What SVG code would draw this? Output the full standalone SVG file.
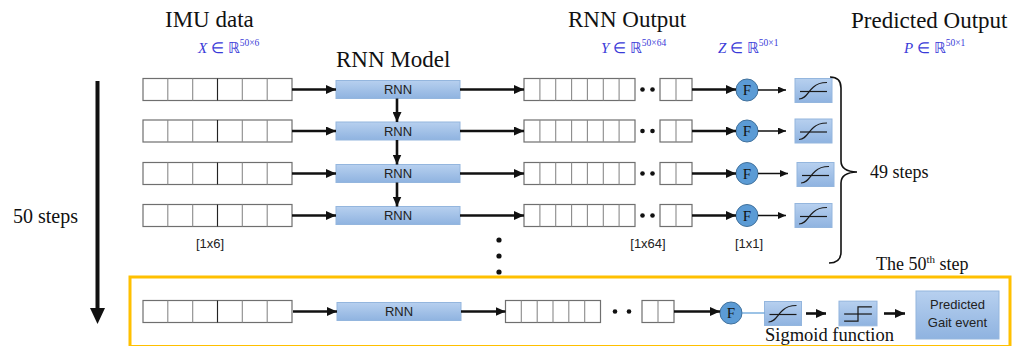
<svg xmlns="http://www.w3.org/2000/svg" xmlns:xlink="http://www.w3.org/1999/xlink" width="1019" height="346" viewBox="0 0 1019 346">
  <style>
    .title { font-family: "Liberation Serif", "Times New Roman", serif; font-size: 23px; fill: #111; }
    .serif { font-family: "Liberation Serif", "Times New Roman", serif; fill: #111; }
    .math { font-family: "Liberation Serif", "Times New Roman", serif; font-size: 15px; fill: #3a3ad8; }
    .mathsup { font-size: 9.5px; }
    .sans { font-family: "Liberation Sans", Arial, sans-serif; font-size: 13px; fill: #222; }
    .cells { fill: #fff; stroke: #6f6f6f; stroke-width: 1.2; }
    .div { stroke: #8a8a8a; stroke-width: 1.1; }
    .box { fill: url(#blueGrad); stroke: #94b6de; stroke-width: 1; }
    .fnode { fill: #5b9bd5; stroke: #41719c; stroke-width: 1; }
    .ftext { font-family: "Liberation Serif", "Times New Roman", serif; font-size: 15px; fill: #111; text-anchor: middle; }
    .thick { stroke: #111; stroke-width: 2.6; fill: none; }
    .thin { stroke: #111; stroke-width: 1.5; fill: none; }
    .dot { fill: #111; }
    .curve { stroke: #1a1a1a; stroke-width: 1.2; fill: none; }
  </style>
  <defs>
    <linearGradient id="blueGrad" x1="0" y1="0" x2="0" y2="1">
      <stop offset="0" stop-color="#b7d0ef"/>
      <stop offset="1" stop-color="#8fb3e0"/>
    </linearGradient>
    <marker id="headBig" markerUnits="userSpaceOnUse" markerWidth="10" markerHeight="9" refX="10" refY="4.5" orient="auto">
      <path d="M0,0 L10,4.5 L0,9 z" fill="#111"/>
    </marker>
    <marker id="headSmall" markerUnits="userSpaceOnUse" markerWidth="8" markerHeight="7" refX="8" refY="3.5" orient="auto">
      <path d="M0,0 L8,3.5 L0,7 z" fill="#111"/>
    </marker>
    <!-- sigmoid activation block -->
    <symbol id="sigmoid" viewBox="0 0 37 24" overflow="visible">
      <rect class="box" x="0" y="0" width="37" height="24"/>
      <line class="curve" x1="5" y1="13" x2="32" y2="13"/>
      <path class="curve" d="M4,20.5 C11,20.5 13,13 18.5,8.5 C22,5 25,4 32,4"/>
    </symbol>
    <!-- step (threshold) block -->
    <symbol id="step" viewBox="0 0 37 24" overflow="visible">
      <rect class="box" x="0" y="0" width="37" height="24"/>
      <line class="curve" x1="5" y1="12.5" x2="32" y2="12.5"/>
      <path class="curve" d="M5,19.5 H18.5 V5.5 H32"/>
    </symbol>
    <!-- 6-cell input vector -->
    <g id="inVec">
      <rect class="cells" x="0" y="0" width="149" height="22"/>
      <path class="div" d="M24.8,0 V22 M49.7,0 V22 M74.5,0 V22 M99.3,0 V22 M124.2,0 V22"/>
      <line x1="74.5" y1="0" x2="74.5" y2="22" stroke="#222" stroke-width="1.1"/>
    </g>
    <!-- 64-wide output vector (truncated) -->
    <g id="outVec">
      <rect class="cells" x="0" y="0" width="111" height="22"/>
      <path class="div" d="M15.9,0 V22 M31.7,0 V22 M47.6,0 V22 M63.4,0 V22 M79.3,0 V22 M95.1,0 V22"/>
      <circle class="dot" cx="118.5" cy="11" r="2.3"/>
      <circle class="dot" cx="128.5" cy="11" r="2.3"/>
      <rect class="cells" x="136" y="0" width="32" height="22"/>
      <line class="div" x1="152" y1="0" x2="152" y2="22"/>
    </g>
    <!-- RNN cell -->
    <g id="rnnCell">
      <rect class="box" x="0" y="0" width="124" height="18"/>
      <text class="sans" x="62" y="13.5" text-anchor="middle">RNN</text>
    </g>
    <!-- fully connected node -->
    <g id="fNode">
      <circle class="fnode" cx="0" cy="0" r="11"/>
      <text class="ftext" x="0" y="5">F</text>
    </g>
  </defs>

  <rect width="1019" height="346" fill="#fff"/>

  <!-- column headings -->
  <g id="headings">
    <text class="title" x="165" y="27">IMU data</text>
    <text class="title" x="336" y="67">RNN Model</text>
    <text class="title" x="568" y="27">RNN Output</text>
    <text class="title" x="851" y="28">Predicted Output</text>
    <text class="math" x="198" y="53"><tspan font-style="italic">X</tspan> ∈ ℝ<tspan class="mathsup" dy="-7">50×6</tspan></text>
    <text class="math" x="601" y="53"><tspan font-style="italic">Y</tspan> ∈ ℝ<tspan class="mathsup" dy="-7">50×64</tspan></text>
    <text class="math" x="718" y="53"><tspan font-style="italic">Z</tspan> ∈ ℝ<tspan class="mathsup" dy="-7">50×1</tspan></text>
    <text class="math" x="904" y="53"><tspan font-style="italic">P</tspan> ∈ ℝ<tspan class="mathsup" dy="-7">50×1</tspan></text>
  </g>

  <!-- time axis -->
  <g id="time-axis">
    <line x1="97.5" y1="81" x2="97.5" y2="310" stroke="#111" stroke-width="4"/>
    <path d="M90,308 L105,308 L97.5,324 z" fill="#111"/>
    <text class="serif" x="13" y="223" font-size="20">50 steps</text>
  </g>

  <!-- step rows 1..4 -->
  <g id="row1-input"><use xlink:href="#inVec" x="143" y="78.5"/></g>
  <g id="row2-input"><use xlink:href="#inVec" x="143" y="120"/></g>
  <g id="row3-input"><use xlink:href="#inVec" x="143" y="162.5"/></g>
  <g id="row4-input"><use xlink:href="#inVec" x="143" y="204.5"/></g>

  <g id="row1-rnn"><use xlink:href="#rnnCell" x="336" y="80.5"/></g>
  <g id="row2-rnn"><use xlink:href="#rnnCell" x="336" y="122"/></g>
  <g id="row3-rnn"><use xlink:href="#rnnCell" x="336" y="164.5"/></g>
  <g id="row4-rnn"><use xlink:href="#rnnCell" x="336" y="206.5"/></g>

  <g id="row1-output"><use xlink:href="#outVec" x="524" y="78.5"/></g>
  <g id="row2-output"><use xlink:href="#outVec" x="524" y="120"/></g>
  <g id="row3-output"><use xlink:href="#outVec" x="524" y="162.5"/></g>
  <g id="row4-output"><use xlink:href="#outVec" x="524" y="204.5"/></g>

  <g id="row1-f"><use xlink:href="#fNode" x="747" y="90"/></g>
  <g id="row2-f"><use xlink:href="#fNode" x="747" y="131"/></g>
  <g id="row3-f"><use xlink:href="#fNode" x="747" y="173.5"/></g>
  <g id="row4-f"><use xlink:href="#fNode" x="747" y="215.5"/></g>

  <g id="row1-sigmoid"><use xlink:href="#sigmoid" x="795" y="78.5" width="37" height="24"/></g>
  <g id="row2-sigmoid"><use xlink:href="#sigmoid" x="795" y="119" width="37" height="24"/></g>
  <g id="row3-sigmoid"><use xlink:href="#sigmoid" x="797" y="162.5" width="37" height="24"/></g>
  <g id="row4-sigmoid"><use xlink:href="#sigmoid" x="795" y="203.5" width="37" height="24"/></g>

  <!-- size annotations -->
  <g id="sizes">
    <text class="sans" x="210" y="248" text-anchor="middle">[1x6]</text>
    <text class="sans" x="648" y="248" text-anchor="middle">[1x64]</text>
    <text class="sans" x="749" y="248" text-anchor="middle">[1x1]</text>
  </g>

  <!-- continuation dots -->
  <g id="ellipsis">
    <circle class="dot" cx="499" cy="240" r="2.6"/>
    <circle class="dot" cx="499" cy="256" r="2.6"/>
    <circle class="dot" cx="499" cy="272" r="2.6"/>
  </g>

  <!-- brace grouping the first 49 steps -->
  <g id="brace49">
    <path d="M830,77 Q841,77 841,88 V161 Q841,171.5 857,172 Q841,172.5 841,183 V252 Q841,263 829,263" stroke="#111" stroke-width="1.6" fill="none"/>
    <text class="serif" x="870" y="178" font-size="18">49 steps</text>
  </g>

  <!-- final step frame -->
  <g id="step50">
    <rect x="130" y="277" width="880" height="69.5" fill="none" stroke="#ffc000" stroke-width="3"/>
    <text class="serif" x="876" y="270" font-size="18">The 50<tspan font-size="11" dy="-7">th</tspan><tspan dy="7"> step</tspan></text>
  </g>

  <g id="step50-input"><use xlink:href="#inVec" x="143" y="300.5"/></g>
  <g id="step50-rnn"><use xlink:href="#rnnCell" x="337" y="302.5"/></g>
  <g id="step50-output">
    <rect class="cells" x="505.5" y="300.5" width="95" height="22"/>
    <path class="div" d="M521.3,300.5 V322.5 M537.2,300.5 V322.5 M553,300.5 V322.5 M568.8,300.5 V322.5 M584.7,300.5 V322.5"/>
    <circle class="dot" cx="615" cy="311.5" r="2.3"/>
    <circle class="dot" cx="629" cy="311.5" r="2.3"/>
    <rect class="cells" x="642" y="300.5" width="32" height="22"/>
    <line class="div" x1="658" y1="300.5" x2="658" y2="322.5"/>
  </g>
  <g id="step50-f"><use xlink:href="#fNode" x="731" y="313"/></g>
  <g id="step50-sigmoid">
    <use xlink:href="#sigmoid" x="764.5" y="301" width="37" height="25"/>
    <text class="serif" x="765" y="341" font-size="18.5">Sigmoid function</text>
  </g>
  <g id="step50-threshold"><use xlink:href="#step" x="839" y="301" width="38" height="25"/></g>
  <g id="step50-event">
    <rect class="box" x="916" y="291" width="83" height="48"/>
    <text class="sans" x="957.5" y="309" text-anchor="middle">Predicted</text>
    <text class="sans" x="957.5" y="327" text-anchor="middle">Gait event</text>
  </g>

  <!-- connectors -->
  <g id="connectors">
    <!-- input to RNN -->
    <line class="thick" x1="292" y1="89.5" x2="336" y2="89.5" marker-end="url(#headBig)"/>
    <line class="thick" x1="292" y1="131" x2="336" y2="131" marker-end="url(#headBig)"/>
    <line class="thick" x1="292" y1="173.5" x2="336" y2="173.5" marker-end="url(#headBig)"/>
    <line class="thick" x1="292" y1="215.5" x2="336" y2="215.5" marker-end="url(#headBig)"/>
    <!-- hidden state passed down -->
    <line class="thick" x1="397" y1="98.5" x2="397" y2="122" marker-end="url(#headBig)"/>
    <line class="thick" x1="397" y1="140" x2="397" y2="164.5" marker-end="url(#headBig)"/>
    <line class="thick" x1="397" y1="182.5" x2="397" y2="206.5" marker-end="url(#headBig)"/>
    <!-- RNN to output vector -->
    <line class="thick" x1="460" y1="89.5" x2="524" y2="89.5" marker-end="url(#headBig)"/>
    <line class="thick" x1="460" y1="131" x2="524" y2="131" marker-end="url(#headBig)"/>
    <line class="thick" x1="460" y1="173.5" x2="524" y2="173.5" marker-end="url(#headBig)"/>
    <line class="thick" x1="460" y1="215.5" x2="524" y2="215.5" marker-end="url(#headBig)"/>
    <!-- output vector to F -->
    <line class="thick" x1="692" y1="89.5" x2="736" y2="89.5" marker-end="url(#headBig)"/>
    <line class="thick" x1="692" y1="131" x2="736" y2="131" marker-end="url(#headBig)"/>
    <line class="thick" x1="692" y1="173.5" x2="736" y2="173.5" marker-end="url(#headBig)"/>
    <line class="thick" x1="692" y1="215.5" x2="736" y2="215.5" marker-end="url(#headBig)"/>
    <!-- F to sigmoid -->
    <line class="thin" x1="758" y1="90" x2="786" y2="90" marker-end="url(#headSmall)"/>
    <line class="thin" x1="758" y1="131" x2="786" y2="131" marker-end="url(#headSmall)"/>
    <line class="thin" x1="758" y1="173.5" x2="788" y2="173.5" marker-end="url(#headSmall)"/>
    <line class="thin" x1="758" y1="215.5" x2="786" y2="215.5" marker-end="url(#headSmall)"/>
    <!-- final step -->
    <line class="thick" x1="293" y1="311.5" x2="337" y2="311.5" marker-end="url(#headBig)"/>
    <line class="thick" x1="461" y1="311.5" x2="505.5" y2="311.5" marker-end="url(#headBig)"/>
    <line class="thick" x1="674" y1="311.5" x2="720" y2="311.5" marker-end="url(#headBig)"/>
    <line x1="742" y1="313" x2="764.5" y2="313" stroke="#5b9bd5" stroke-width="1.2"/>
    <line class="thick" x1="806" y1="313.5" x2="826" y2="313.5" marker-end="url(#headBig)"/>
    <line class="thick" x1="884" y1="313.5" x2="905" y2="313.5" marker-end="url(#headBig)"/>
  </g>
</svg>
